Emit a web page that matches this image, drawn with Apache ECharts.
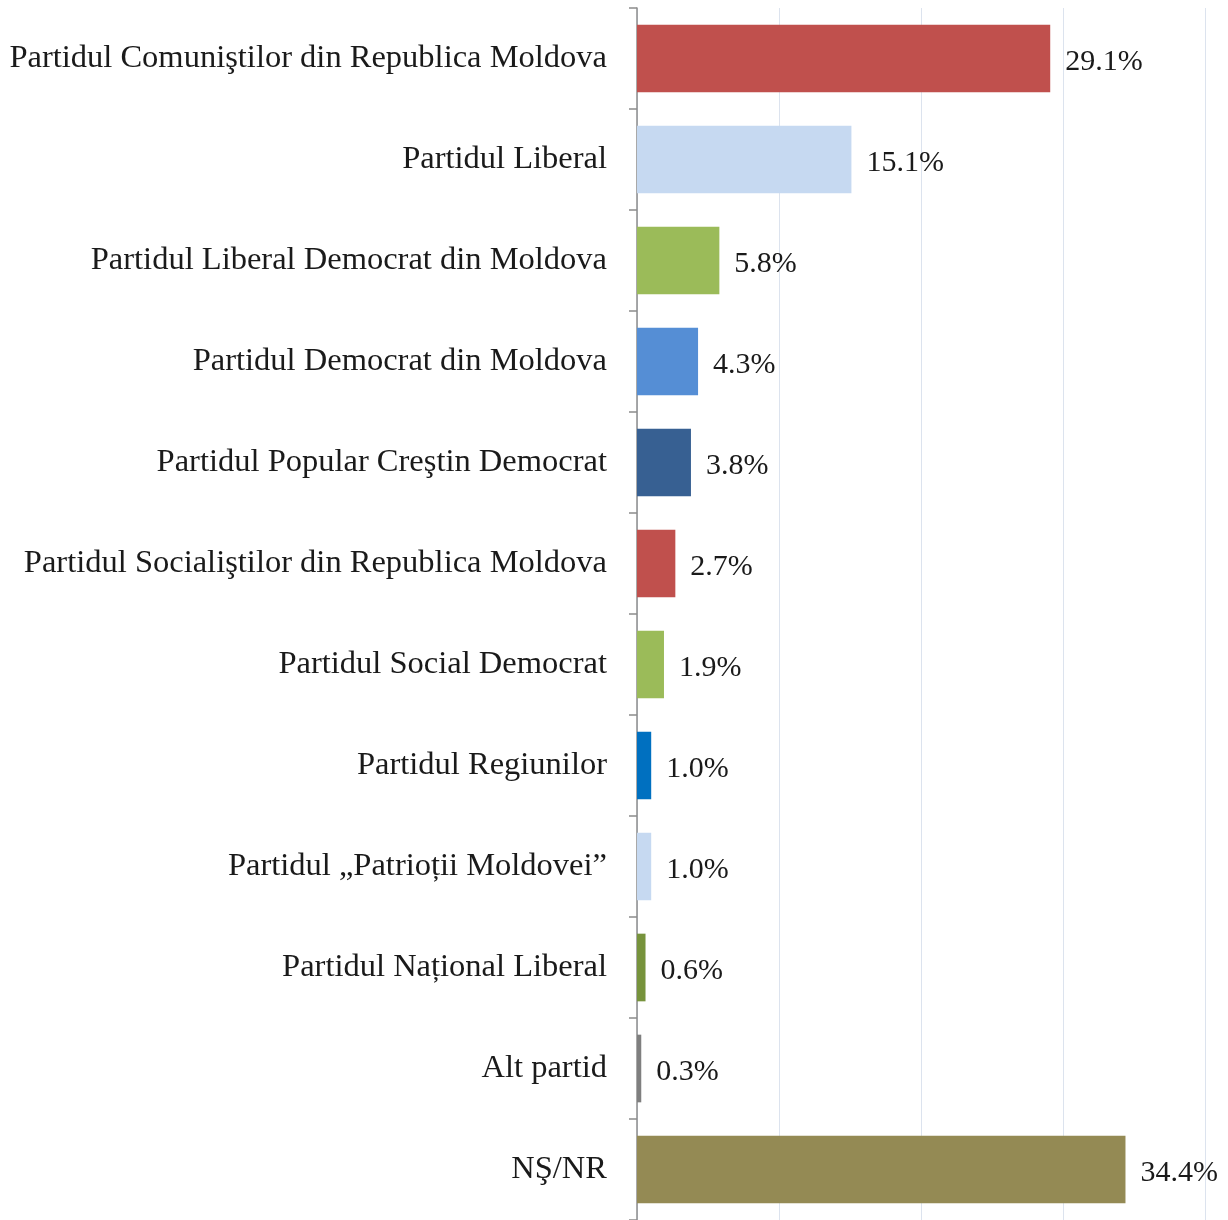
<!DOCTYPE html>
<html>
<head>
<meta charset="utf-8">
<script src="https://cdn.jsdelivr.net/npm/echarts@6/dist/echarts.min.js"></script>
<style>
    html, body { margin: 0; padding: 0; background: #fff; }
    #chart { width: 1228px; height: 1220px; }
</style>
</head>
<body>
<div id="chart"></div>
<script>
// 分类（从上到下）
const parties = [
    'Partidul Comuniştilor din Republica Moldova',
    'Partidul Liberal',
    'Partidul Liberal Democrat din Moldova',
    'Partidul Democrat din Moldova',
    'Partidul Popular Creştin Democrat',
    'Partidul Socialiştilor din Republica Moldova',
    'Partidul Social Democrat',
    'Partidul Regiunilor',
    'Partidul \u201EPatrioții Moldovei\u201D',
    'Partidul Național Liberal',
    'Alt partid',
    'NŞ/NR'
];

// 百分比
const shares = [29.1, 15.1, 5.8, 4.3, 3.8, 2.7, 1.9, 1.0, 1.0, 0.6, 0.3, 34.4];

// 每根柱子的颜色
const barColors = [
    '#C0504D', '#C6D9F1', '#9BBB59', '#558ED5', '#376092', '#C0504D',
    '#9BBB59', '#0070C0', '#C6D9F1', '#77933C', '#7F7F7F', '#948A54'
];

const FONT = '"Liberation Serif", serif';

let chart;

function initChart() {
    chart = echarts.init(document.getElementById('chart'));

    const option = {
        animation: false,
        grid: {
            left: 637,
            right: 23,
            top: 8,
            height: 1214,
            containLabel: false
        },
        xAxis: {
            type: 'value',
            min: 0,
            max: 40,
            interval: 10,
            axisLabel: { show: false },
            axisLine: { show: false },
            axisTick: { show: false },
            splitLine: {
                show: true,
                lineStyle: { color: '#DCE3EE', width: 1 }
            }
        },
        yAxis: {
            type: 'category',
            inverse: true,
            data: parties,
            axisLine: { show: true, lineStyle: { color: '#8C8C8C', width: 1.5 } },
            axisTick: { show: true, length: 8, lineStyle: { color: '#8C8C8C', width: 1.5 } },
            axisLabel: {
                margin: 30,
                color: '#1a1a1a',
                fontFamily: FONT,
                fontSize: 32.5,
                // 文字略往下移
                padding: [5, 0, 0, 0]
            }
        },
        series: [{
            type: 'bar',
            data: shares.map((v, i) => ({
                value: v,
                itemStyle: { color: barColors[i] }
            })),
            barCategoryGap: '33%',
            label: {
                show: true,
                position: 'right',
                distance: 15,
                offset: [0, 4],
                color: '#1a1a1a',
                fontFamily: FONT,
                fontSize: 30,
                formatter: p => p.value.toFixed(1) + '%'
            }
        }]
    };

    chart.setOption(option);
}

document.addEventListener('DOMContentLoaded', initChart);
</script>
</body>
</html>
